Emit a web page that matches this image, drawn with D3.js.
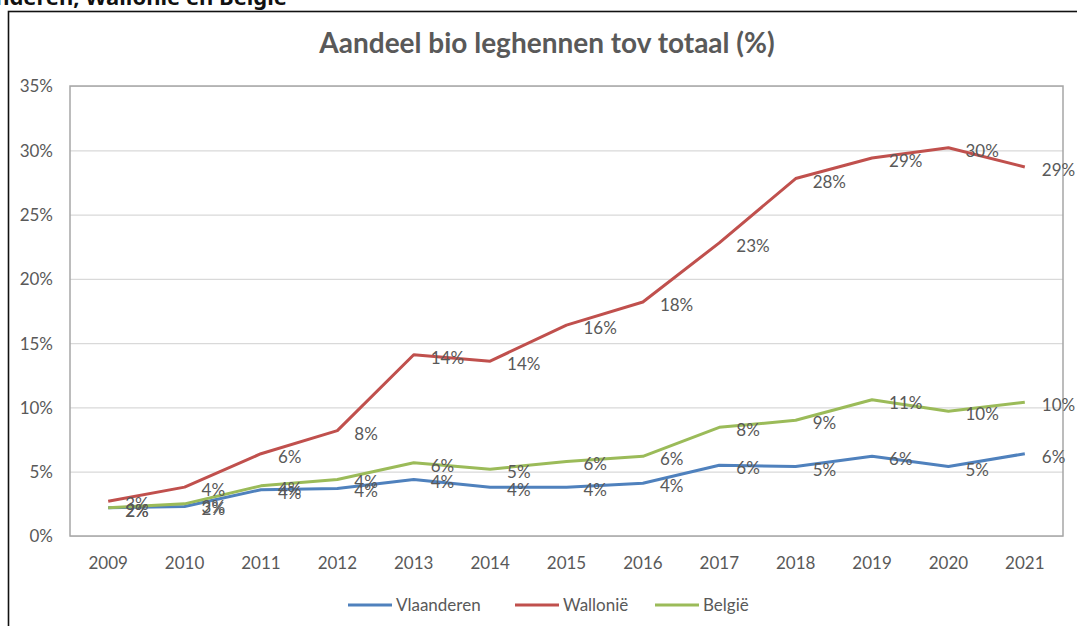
<!DOCTYPE html>
<html>
<head>
<meta charset="utf-8">
<script src="https://cdn.jsdelivr.net/npm/d3@7"></script>
<style>
  body { margin: 0; background: #fff; overflow: hidden; }
  svg { display: block; font-family: Lato, "Open Sans", sans-serif; }
</style>
</head>
<body>
<script>
// years on the x axis
const years = ['2009','2010','2011','2012','2013','2014','2015','2016','2017','2018','2019','2020','2021']
// share of organic laying hens, percent
const vlaanderen = [2.2, 2.3, 3.6, 3.7, 4.4, 3.8, 3.8, 4.1, 5.5, 5.4, 6.2, 5.4, 6.4]
const wallonie = [2.7, 3.8, 6.4, 8.2, 14.1, 13.6, 16.4, 18.2, 22.8, 27.8, 29.4, 30.2, 28.7]
const belgie = [2.2, 2.5, 3.9, 4.4, 5.7, 5.2, 5.8, 6.2, 8.45, 9.0, 10.6, 9.7, 10.4]
const yTicks = [0, 5, 10, 15, 20, 25, 30, 35]
const seriesNames = ['Vlaanderen', 'Wallonië', 'België']

const w = 1077
const h = 626
const colors = ['#4f81bd', '#c0504d', '#9bbb59']
const textGray = '#595959'
const fontSize = '17px'

const series = [vlaanderen, wallonie, belgie].map((vals, i) => ({
  name: seriesNames[i],
  color: colors[i],
  values: vals.map((v, j) => ({ year: years[j], v: v }))
}))

let svg = d3.select('body')
  .append('svg')
  .attr('width', w)
  .attr('height', h)

// heading from the page, cut off by the screenshot
svg.append('text')
  .attr('x', 287)
  .attr('y', 5)
  .attr('text-anchor', 'end')
  .style('font-family', '"Noto Sans", sans-serif')
  .style('font-size', '22px')
  .style('font-weight', 'bold')
  .style('fill', '#111')
  .text('Vlaanderen, Wallonië en België')

// outer chart border
svg.append('rect')
  .attr('x', 8.5)
  .attr('y', 11.5)
  .attr('width', w + 20)
  .attr('height', h + 20)
  .style('fill', 'none')
  .style('stroke', '#111')
  .style('stroke-width', 1.6)

svg.append('text')
  .attr('x', 547)
  .attr('y', 53)
  .attr('text-anchor', 'middle')
  .style('font-size', '28px')
  .style('font-weight', 'bold')
  .style('fill', textGray)
  .text('Aandeel bio leghennen tov totaal (%)')

const plotL = 70, plotR = 1063, plotT = 86, plotB = 536

const x = d3.scaleBand()
  .domain(years)
  .range([plotL, plotR])

const y = d3.scaleLinear()
  .domain([0, 35])
  .range([plotB, plotT])

const cx = (yr) => x(yr) + x.bandwidth() / 2

// gridlines
svg.append('g')
  .attr('transform', `translate(${plotL},0)`)
  .call(d3.axisLeft(y).tickValues(yTicks).tickSize(-(plotR - plotL)).tickFormat(''))
  .call(g => g.select('.domain').remove())
  .selectAll('line')
  .style('stroke', '#d9d9d9')
  .style('stroke-width', 1.2)

// y labels
svg.append('g')
  .attr('transform', `translate(${plotL - 17},0)`)
  .call(d3.axisLeft(y).tickValues(yTicks).tickSize(0).tickFormat(d => d + '%'))
  .call(g => g.select('.domain').remove())
  .selectAll('text')
  .attr('x', 0)
  .attr('dy', '0.35em')
  .style('font-family', 'Lato, sans-serif')
  .style('font-size', fontSize)
  .style('fill', textGray)

// x labels
svg.append('g')
  .attr('transform', `translate(0,${plotB + 27})`)
  .call(d3.axisBottom(x).tickSize(0))
  .call(g => g.select('.domain').remove())
  .selectAll('text')
  .attr('y', 0)
  .attr('dy', '0.35em')
  .style('font-family', 'Lato, sans-serif')
  .style('font-size', fontSize)
  .style('fill', textGray)

// plot area frame
svg.append('rect')
  .attr('x', plotL)
  .attr('y', plotT)
  .attr('width', plotR - plotL)
  .attr('height', plotB - plotT)
  .style('fill', 'none')
  .style('stroke', '#a6a6a6')
  .style('stroke-width', 1.5)

const line = d3.line()
  .x(d => cx(d.year))
  .y(d => y(d.v))

svg.selectAll('.series')
  .data(series)
  .enter()
  .append('path')
  .attr('class', 'series')
  .attr('d', d => line(d.values))
  .style('fill', 'none')
  .style('stroke', d => d.color)
  .style('stroke-width', 3)
  .style('stroke-linejoin', 'round')

// data labels, right of each point (overlaps kept as in the source chart)
series.forEach(s => {
  svg.append('g')
    .selectAll('text')
    .data(s.values)
    .enter()
    .append('text')
    .attr('x', d => cx(d.year) + 17)
    .attr('y', d => y(d.v) + 3)
    .attr('dy', '0.35em')
    .style('font-size', fontSize)
    .style('fill', textGray)
    .text(d => Math.round(d.v) + '%')
})

// legend
const legendX = [348, 515, 655]
const legend = svg.selectAll('.legend')
  .data(series)
  .enter()
  .append('g')
  .attr('class', 'legend')
  .attr('transform', (d, i) => `translate(${legendX[i]},605)`)

legend.append('line')
  .attr('x1', 0)
  .attr('x2', 44)
  .style('stroke', d => d.color)
  .style('stroke-width', 3)

legend.append('text')
  .attr('x', 48)
  .attr('dy', '0.35em')
  .style('font-size', fontSize)
  .style('fill', textGray)
  .text(d => d.name)
</script>
</body>
</html>
